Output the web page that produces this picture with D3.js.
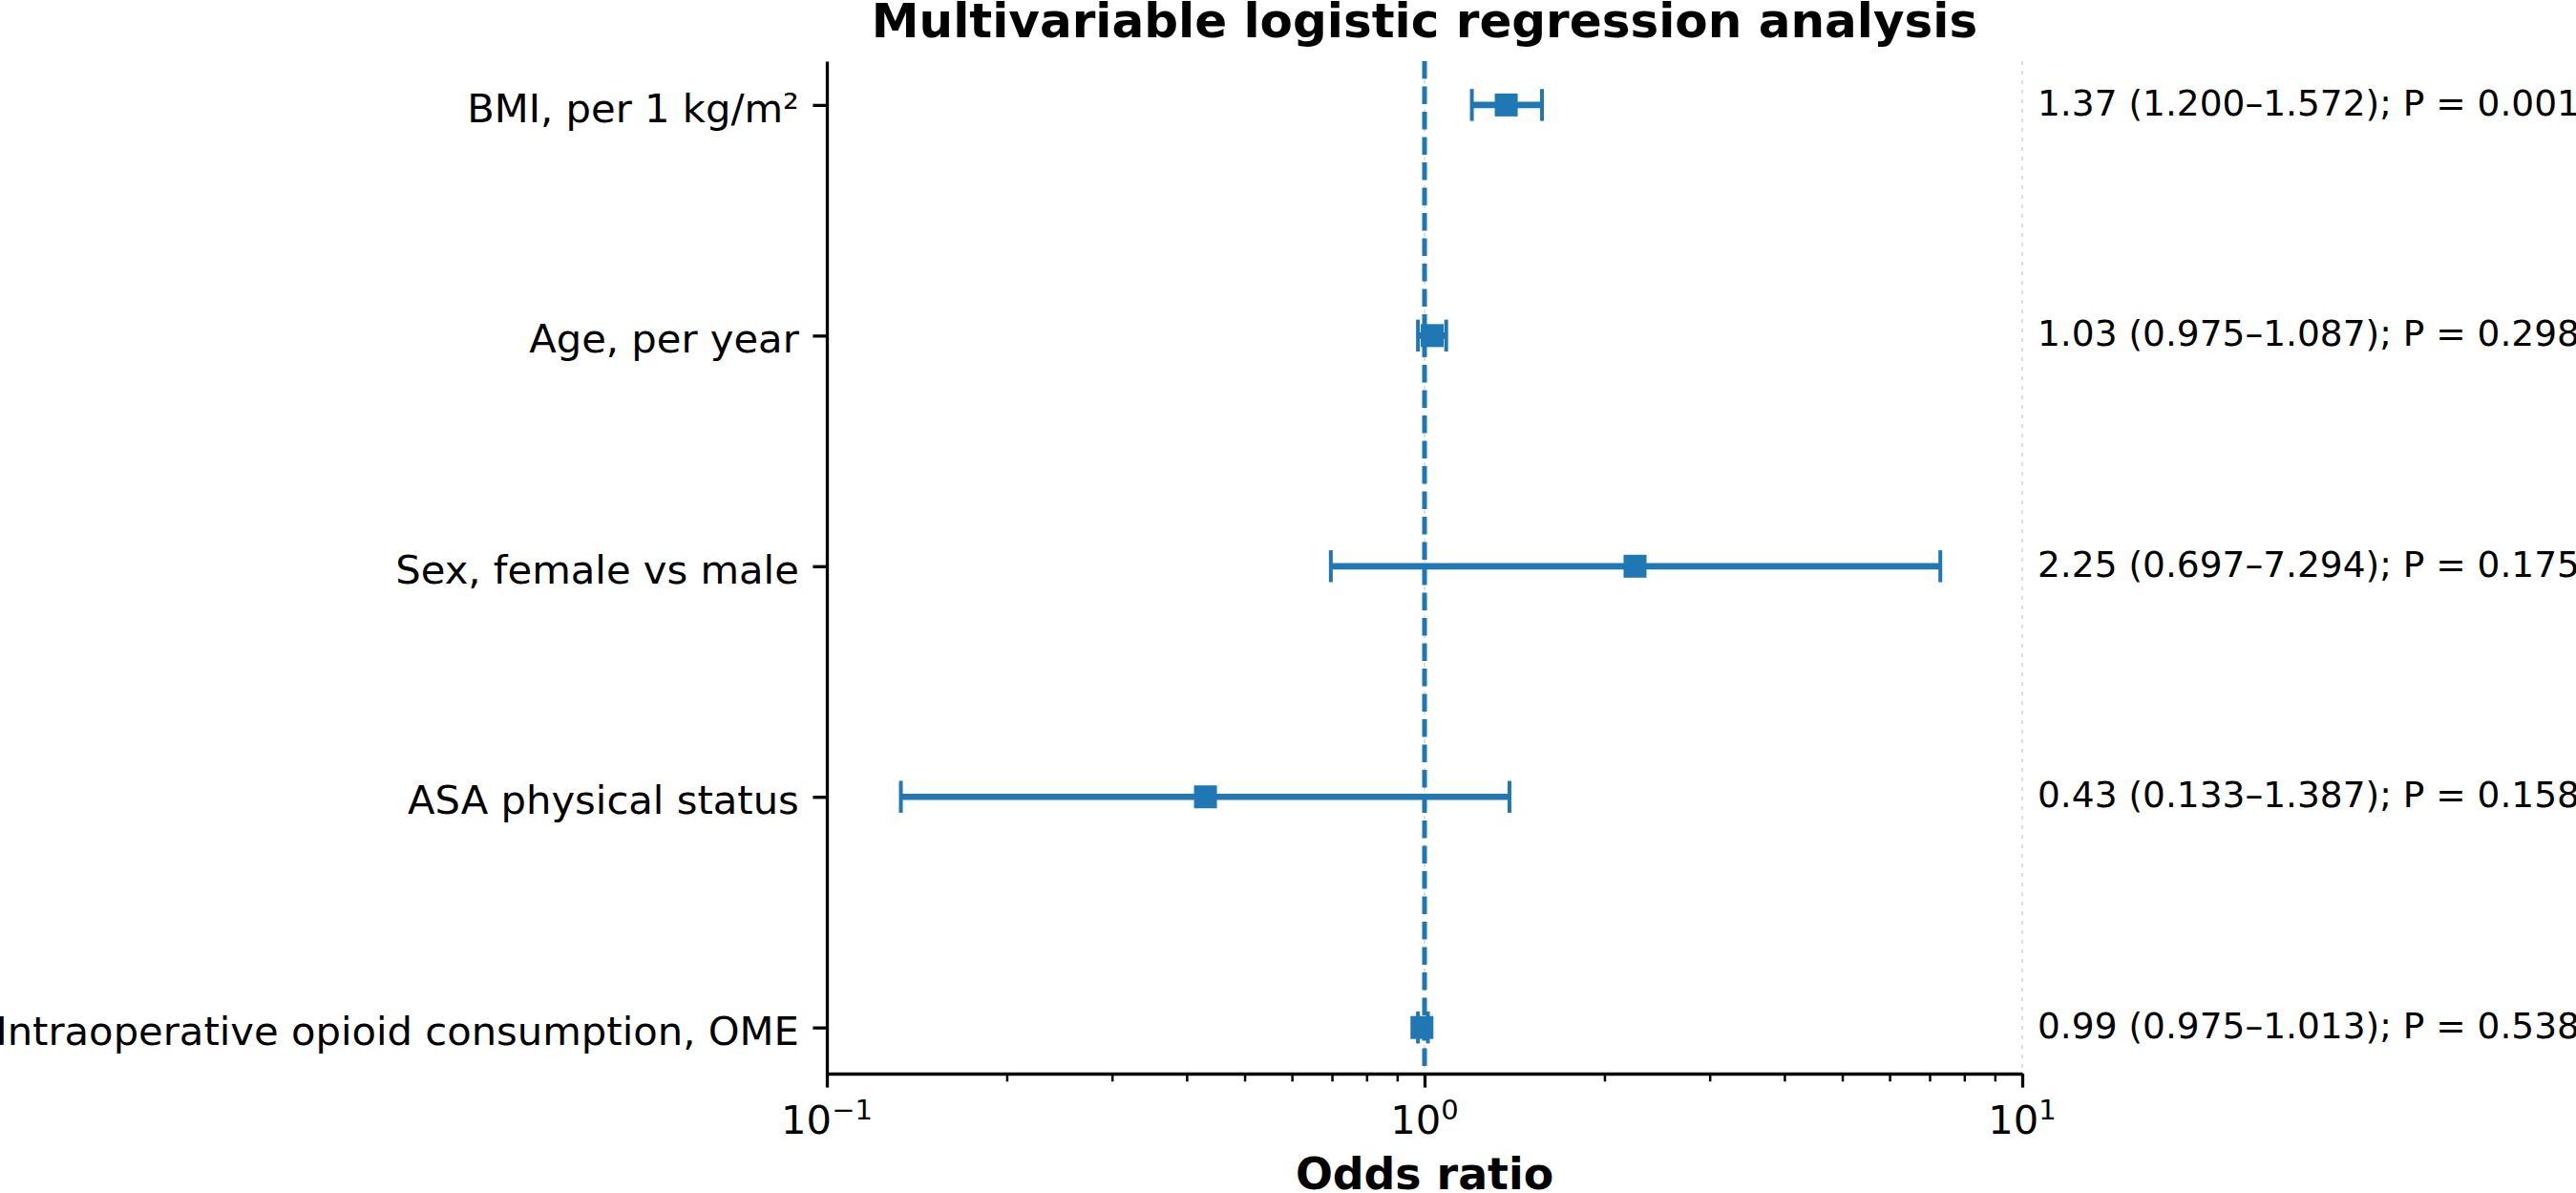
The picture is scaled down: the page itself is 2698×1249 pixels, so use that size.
<!DOCTYPE html>
<html>
<head>
<meta charset="utf-8">
<script src="https://cdn.jsdelivr.net/npm/d3@7/dist/d3.min.js"></script>
<style>
  html, body { margin: 0; padding: 0; background: #fff; }
  svg { display: block; }
  text { font-family: "DejaVu Sans", sans-serif; }
</style>
</head>
<body>
<svg id="chart" width="2698" height="1249"></svg>
<script>
// ---- data ----
const categories = [
  "BMI, per 1 kg/m²",
  "Age, per year",
  "Sex, female vs male",
  "ASA physical status",
  "Intraoperative opioid consumption, OME"
];
const oddsRatio = [1.37, 1.03, 2.25, 0.43, 0.99];
const ciLower   = [1.200, 0.975, 0.697, 0.133, 0.975];
const ciUpper   = [1.572, 1.087, 7.294, 1.387, 1.013];
const pValues   = ["0.001", "0.298", "0.175", "0.158", "0.538"];
const majorTicks = [0.1, 1, 10];
const majorTickExponents = ["−1", "0", "1"];
const minorTicks = [0.2, 0.3, 0.4, 0.5, 0.6, 0.7, 0.8, 0.9, 2, 3, 4, 5, 6, 7, 8, 9];
const titleText = "Multivariable logistic regression analysis";
const xLabelText = "Odds ratio";

// ---- layout ----
const color = "#1f77b4";
const plot = { left: 866, right: 2118, top: 64, bottom: 1124 };
const svg = d3.select("#chart");
svg.append("rect").attr("width", 2698).attr("height", 1249).attr("fill", "#fff");

const x = d3.scaleLog().domain([0.1, 10]).range([plot.left, plot.right]);
const y = d3.scaleLinear().domain([-0.19, 4.2]).range([plot.top, plot.bottom]);
const idx = categories.map((d, i) => i);

// grid (x major, dotted light gray)
svg.append("g").selectAll("line").data(majorTicks.slice(1)).join("line")
  .attr("x1", d => x(d)).attr("x2", d => x(d))
  .attr("y1", plot.top).attr("y2", plot.bottom)
  .attr("stroke", "#dedede").attr("stroke-width", 2)
  .attr("stroke-dasharray", "4 6");

// error bars
const eb = svg.append("g");
eb.selectAll("line.bar").data(idx).join("line").attr("class", "bar")
  .attr("x1", i => x(ciLower[i])).attr("x2", i => x(ciUpper[i]))
  .attr("y1", i => y(i)).attr("y2", i => y(i))
  .attr("stroke", color).attr("stroke-width", 6.7);
const caps = [];
idx.forEach(i => { caps.push({ i, v: ciLower[i] }); caps.push({ i, v: ciUpper[i] }); });
eb.selectAll("line.cap").data(caps).join("line").attr("class", "cap")
  .attr("x1", d => x(d.v)).attr("x2", d => x(d.v))
  .attr("y1", d => y(d.i) - 16.7).attr("y2", d => y(d.i) + 16.7)
  .attr("stroke", color).attr("stroke-width", 4);

// reference line at OR = 1
svg.append("line")
  .attr("x1", x(1)).attr("x2", x(1))
  .attr("y1", plot.top).attr("y2", plot.bottom)
  .attr("stroke", color).attr("stroke-width", 5)
  .attr("stroke-dasharray", "18.5 8");

// markers
svg.append("g").selectAll("rect").data(idx).join("rect")
  .attr("x", i => x(oddsRatio[i]) - 12).attr("y", i => y(i) - 12)
  .attr("width", 24).attr("height", 24)
  .attr("fill", color);

// annotations
svg.append("g").selectAll("text").data(idx).join("text")
  .attr("x", plot.right + 16).attr("y", i => y(i) + 11)
  .attr("font-size", 37.5).attr("fill", "#000")
  .text(i => `${oddsRatio[i].toFixed(2)} (${ciLower[i].toFixed(3)}–${ciUpper[i].toFixed(3)}); P = ${pValues[i]}`);

// x axis
const xAxis = svg.append("g").attr("transform", `translate(0,${plot.bottom})`)
  .call(d3.axisBottom(x).tickValues(majorTicks).tickSize(14.6).tickSizeOuter(0).tickFormat(() => ""));
xAxis.select(".domain").attr("stroke-width", 3.3).attr("stroke", "#000");
xAxis.selectAll(".tick line").attr("stroke-width", 3.3).attr("stroke", "#000");
xAxis.selectAll(".tick text").remove();
const xMinor = svg.append("g").attr("transform", `translate(0,${plot.bottom})`)
  .call(d3.axisBottom(x).tickValues(minorTicks).tickSize(8.3).tickSizeOuter(0).tickFormat(() => ""));
xMinor.select(".domain").remove();
xMinor.selectAll(".tick line").attr("stroke-width", 2.5).attr("stroke", "#000");
xMinor.selectAll(".tick text").remove();

// x tick labels 10^n
const xl = svg.append("g").selectAll("text").data(majorTicks).join("text")
  .attr("x", d => x(d)).attr("y", 1187)
  .attr("text-anchor", "middle").attr("font-size", 41.7).attr("fill", "#000");
xl.append("tspan").text("10");
xl.append("tspan").attr("font-size", 29).attr("dy", -15)
  .text((d, i) => majorTickExponents[i]);

// y axis
const yAxis = svg.append("g").attr("transform", `translate(${plot.left},0)`)
  .call(d3.axisLeft(y).tickValues(idx).tickSize(14.6).tickPadding(14.6).tickSizeOuter(0)
    .tickFormat(i => categories[i]));
yAxis.select(".domain").attr("stroke-width", 3.3).attr("stroke", "#000");
yAxis.selectAll(".tick line").attr("stroke-width", 3.3).attr("stroke", "#000");
yAxis.selectAll(".tick text")
  .attr("font-size", 41.7).attr("font-family", "DejaVu Sans").attr("fill", "#000")
  .attr("dy", "0.42em");

// title & x label
svg.append("text").attr("x", (plot.left + plot.right) / 2).attr("y", 39)
  .attr("text-anchor", "middle").attr("font-size", 50).attr("font-weight", "bold")
  .text(titleText);
svg.append("text").attr("x", (plot.left + plot.right) / 2).attr("y", 1245)
  .attr("text-anchor", "middle").attr("font-size", 45.8).attr("font-weight", "bold")
  .text(xLabelText);
</script>
</body>
</html>
